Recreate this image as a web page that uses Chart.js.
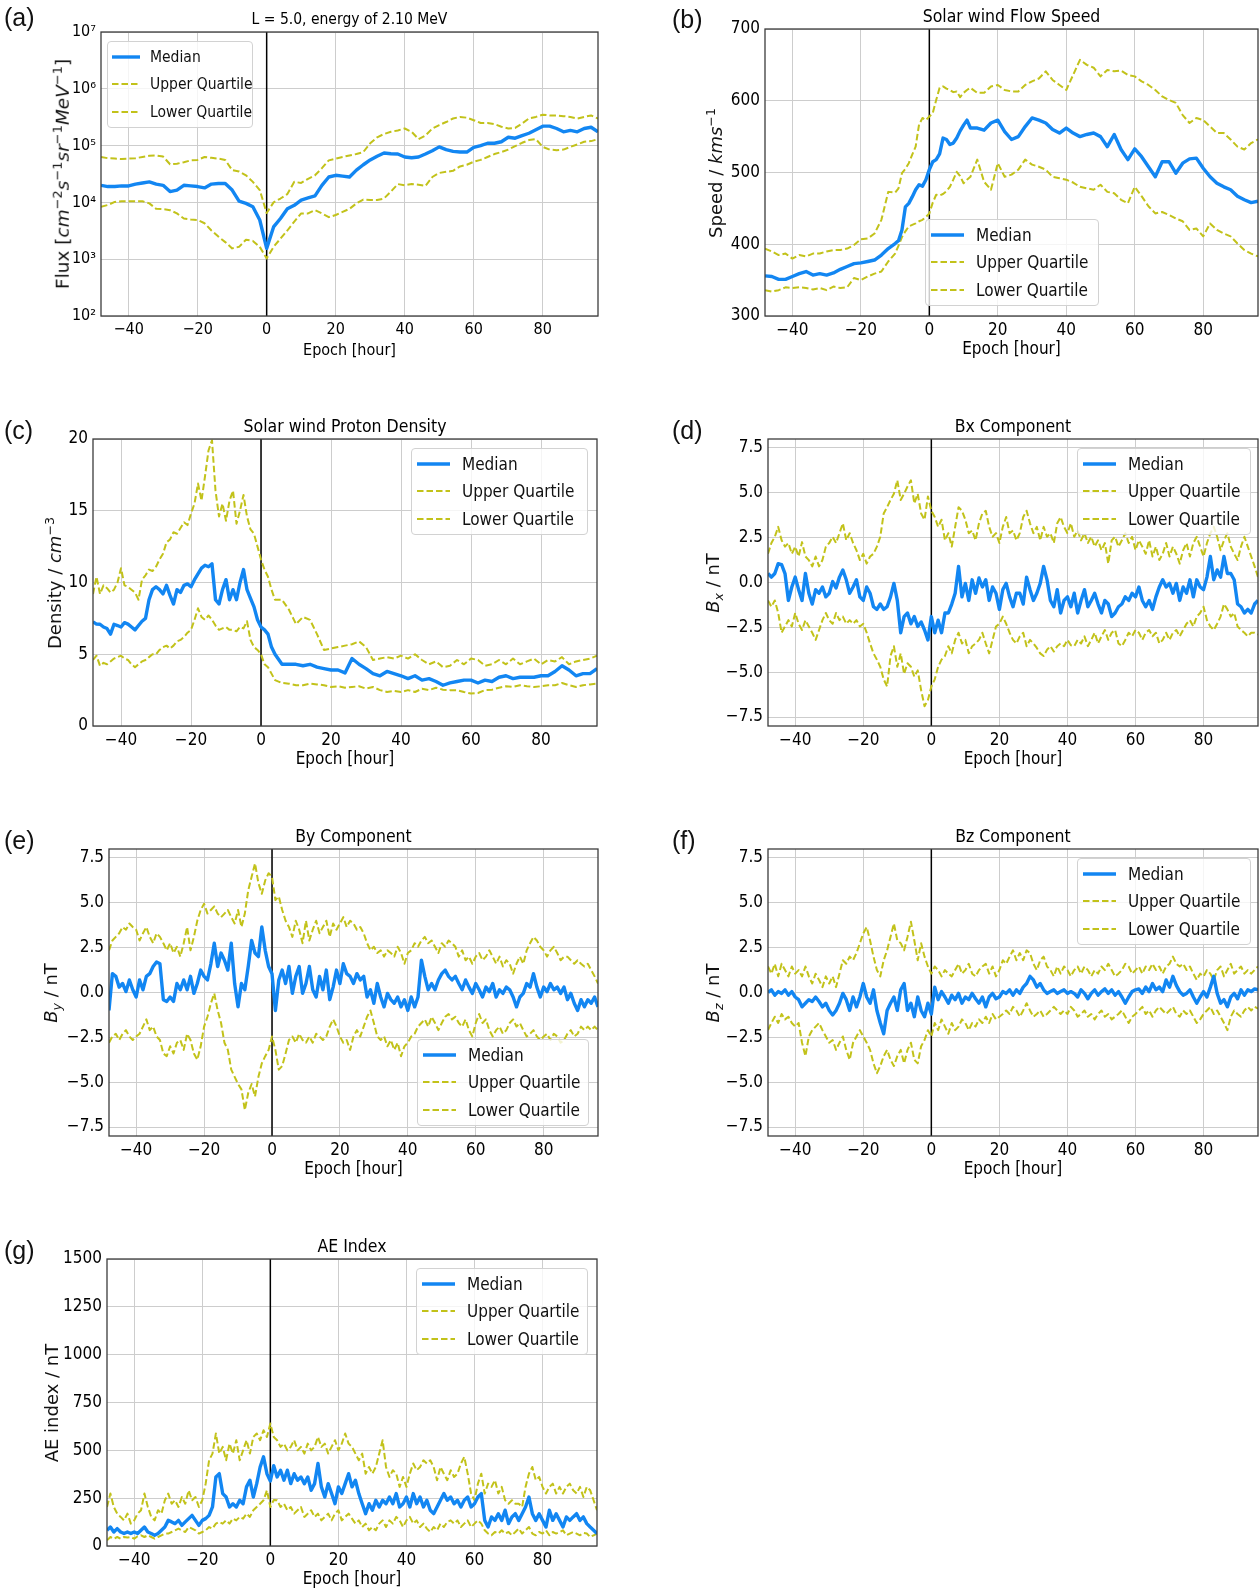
<!DOCTYPE html>
<html>
<head>
<meta charset="utf-8">
<script src="https://cdn.jsdelivr.net/npm/chart.js@4.4.1/dist/chart.umd.min.js"></script>
<style>
  body { margin: 0; background: #fff; width: 1260px; height: 1591px; position: relative; overflow: hidden; }
  .panel { position: absolute; }
  .tag { position: absolute; font: 25px 'Liberation Sans', Arial, sans-serif; line-height: 1; color: #111; }
  .ylab { position: absolute; white-space: nowrap; transform: translate(-50%, -50%) rotate(-90deg);
          font-family: 'DejaVu Sans', sans-serif; color: #111; line-height: 1; }
  .ylab sup { font-size: 0.7em; vertical-align: 0.55em; line-height: 0; }
  .ylab sub { font-size: 0.7em; vertical-align: -0.3em; line-height: 0; }
  .legend { position: absolute; background: rgba(255,255,255,0.8); border: 1px solid #d2d2d2;
            border-radius: 4px; box-sizing: border-box; }
  .legend .row { position: absolute; display: flex; align-items: center; height: 26px; white-space: nowrap; color: #111; }
</style>
</head>
<body>
<script>
// ---- data: epoch hours ----
const HOURS_1H = [-48,-47,-46,-45,-44,-43,-42,-41,-40,-39,
  -38,-37,-36,-35,-34,-33,-32,-31,-30,-29,
  -28,-27,-26,-25,-24,-23,-22,-21,-20,-19,
  -18,-17,-16,-15,-14,-13,-12,-11,-10,-9,
  -8,-7,-6,-5,-4,-3,-2,-1,0,1,
  2,3,4,5,6,7,8,9,10,11,
  12,13,14,15,16,17,18,19,20,21,
  22,23,24,25,26,27,28,29,30,31,
  32,33,34,35,36,37,38,39,40,41,
  42,43,44,45,46,47,48,49,50,51,
  52,53,54,55,56,57,58,59,60,61,
  62,63,64,65,66,67,68,69,70,71,
  72,73,74,75,76,77,78,79,80,81,
  82,83,84,85,86,87,88,89,90,91,
  92,93,94,95,96];
const HOURS_2H = [-48,-46,-44,-42,-40,-38,-36,-34,-32,-30,
  -28,-26,-24,-22,-20,-18,-16,-14,-12,-10,
  -8,-6,-4,-2,0,2,4,6,8,10,
  12,14,16,18,20,22,24,26,28,30,
  32,34,36,38,40,42,44,46,48,50,
  52,54,56,58,60,62,64,66,68,70,
  72,74,76,78,80,82,84,86,88,90,
  92,94,96];
const HOURS_B = [-48,-46,-44,-42,-40,-38,-36,-34,-32,-30,-28,-26,-24,-22,-20,-18,-16,-14,-12,-10,
  -9,-8,-7,-6,-5,-4,-3,-2,-1,0,1,2,3,4,5,6,7,8,9,10,11,12,
  14,16,18,20,22,24,26,28,30,32,34,36,38,40,42,44,46,48,50,52,54,56,58,60,62,64,66,68,70,72,74,76,78,80,82,84,86,88,90,92,94,96];
const HOURS_C = [-48,-47,-46,-45,-44,-43,-42,-41,-40,-39,
  -38,-37,-36,-35,-34,-33,-32,-31,-30,-29,
  -28,-27,-26,-25,-24,-23,-22,-21,-20,-19,
  -18,-17,-16,-15,-14,-13,-12,-11,-10,-9,
  -8,-7,-6,-5,-4,-3,-2,-1,0,1,
  2,3,4,
  6,8,10,12,14,16,18,20,22,24,
  26,28,30,32,34,36,38,40,42,44,
  46,48,50,52,54,56,58,60,62,64,
  66,68,70,72,74,76,78,80,82,84,
  86,88,90,92,94,96];

// (a) flux, L = 5.0, 2.10 MeV
const FLUX_MED = [2.0e4,1.9e4,1.9e4,1.95e4,1.95e4,2.1e4,2.2e4,2.3e4,2.1e4,2.0e4,
  1.55e4,1.65e4,2.0e4,1.95e4,1.9e4,1.8e4,2.1e4,2.15e4,2.15e4,1.65e4,
  1.05e4,9.6e3,8.4e3,4.9e3,1.55e3,3.7e3,5.2e3,7.7e3,8.9e3,1.1e4,
  1.2e4,1.3e4,2.0e4,2.8e4,3.0e4,2.9e4,2.8e4,3.7e4,4.6e4,5.6e4,
  6.5e4,7.4e4,7.2e4,7.1e4,6.3e4,6.1e4,6.3e4,7.1e4,8.1e4,9.5e4,
  8.5e4,7.9e4,7.7e4,7.7e4,9.3e4,1.0e5,1.1e5,1.1e5,1.17e5,1.4e5,
  1.35e5,1.5e5,1.65e5,1.9e5,2.2e5,2.2e5,2.0e5,1.75e5,1.85e5,1.75e5,
  2.0e5,2.1e5,1.75e5];
const FLUX_UP = [6.3e4,6.0e4,5.9e4,5.8e4,5.9e4,6.0e4,6.3e4,6.6e4,6.7e4,6.4e4,
  4.7e4,4.8e4,5.1e4,5.5e4,5.6e4,6.3e4,6.1e4,5.9e4,5.6e4,3.7e4,
  3.5e4,3.0e4,2.3e4,1.65e4,6.5e3,1.0e4,1.17e4,1.4e4,2.3e4,2.2e4,
  2.6e4,3.0e4,4.0e4,5.5e4,5.9e4,6.3e4,6.7e4,7.1e4,7.7e4,1.1e5,
  1.4e5,1.6e5,1.75e5,1.85e5,2.0e5,1.75e5,1.3e5,1.5e5,2.0e5,2.3e5,
  2.6e5,3.0e5,3.2e5,3.1e5,2.8e5,2.5e5,2.5e5,2.4e5,2.15e5,2.0e5,
  2.05e5,2.45e5,3.0e5,3.2e5,3.5e5,3.4e5,3.4e5,3.3e5,3.2e5,3.0e5,
  3.2e5,3.4e5,3.0e5];
const FLUX_LO = [8.4e3,9.0e3,1.02e4,1.05e4,1.05e4,1.05e4,1.05e4,9.6e3,7.7e3,7.6e3,
  7.3e3,6.4e3,5.2e3,5.0e3,4.9e3,4.3e3,3.2e3,2.5e3,2.0e3,1.55e3,
  1.65e3,2.2e3,2.1e3,1.65e3,1.03e3,1.65e3,2.3e3,3.2e3,4.6e3,6.4e3,
  6.4e3,7.3e3,6.4e3,5.5e3,6.0e3,6.8e3,7.7e3,9.6e3,1.12e4,1.1e4,
  1.1e4,1.17e4,1.55e4,2.1e4,2.0e4,2.1e4,2.05e4,1.95e4,2.8e4,3.3e4,
  3.45e4,3.6e4,4.3e4,4.6e4,5.2e4,5.6e4,6.3e4,7.1e4,7.7e4,8.5e4,
  9.8e4,1.12e5,1.25e5,1.3e5,9.5e4,8.5e4,8.3e4,8.5e4,9.5e4,1.05e5,
  1.17e5,1.2e5,1.3e5];

// (b) solar wind flow speed
const SPEED_MED = [356,355,351,351,355,359,362,357,359,357,360,365,369,373,374,376,378,385,394,401,
  405,420,452,457,466,476,483,481,490,504,515,518,526,548,546,539,541,548,558,566,573,562,
  562,559,569,573,557,546,550,564,576,573,569,560,555,562,555,550,553,555,550,536,553,532,518,533,522,508,494,515,515,499,513,519,520,506,494,485,480,476,467,462,458,460];
const SPEED_UP = [394,390,385,387,380,385,383,387,387,390,392,392,394,399,407,408,415,434,473,472,
  478,499,505,513,525,536,567,576,573,578,583,601,618,620,617,615,612,613,605,611,615,618,
  611,611,620,622,615,613,613,622,627,631,641,629,622,615,636,657,650,646,634,643,641,642,636,634,627,622,615,606,601,597,580,569,576,573,564,555,555,546,536,532,541,546];
const SPEED_LO = [336,334,336,340,339,340,339,337,339,336,341,339,340,353,350,355,359,362,376,387,
  398,410,418,425,427,429,432,434,438,443,458,469,468,470,474,480,490,501,495,485,490,494,
  518,487,476,513,494,497,504,518,511,508,504,494,492,490,486,480,478,476,483,473,471,462,457,480,467,453,443,445,441,436,432,420,422,411,429,420,415,411,401,392,387,383];

// (c) solar wind proton density
const DENS_MED = [7.26,7.1,7.09,6.9,6.79,6.4,7.09,7.0,6.9,7.2,
  7.1,6.9,6.7,7.0,7.3,7.5,8.8,9.5,9.7,9.5,
  9.2,9.8,9.1,8.5,9.5,9.3,9.8,9.9,9.7,10.2,
  10.6,11.0,11.2,11.1,11.3,8.8,8.5,9.5,10.2,8.8,
  9.5,8.8,10.0,10.9,9.5,8.9,8.3,7.4,6.9,6.7,
  6.4,5.5,5.0,
  4.3,4.3,4.3,4.2,4.3,4.1,4.0,3.9,3.9,3.7,
  4.7,4.3,4.0,3.65,3.5,3.8,3.65,3.5,3.3,3.5,
  3.2,3.3,3.1,2.84,3.0,3.1,3.2,3.2,3.0,3.2,
  3.1,3.4,3.5,3.3,3.4,3.4,3.4,3.5,3.5,3.8,
  4.2,3.9,3.5,3.65,3.65,4.0];
const DENS_UP = [9.2,10.4,9.2,9.8,9.6,9.3,9.5,10.0,11.0,9.8,
  9.7,9.5,9.3,8.8,10.2,10.5,10.9,10.8,11.1,11.6,
  12.0,12.8,13.0,13.5,13.4,13.8,14.2,14.0,14.8,15.5,
  16.9,15.7,17.4,19.2,19.9,16.4,14.6,15.5,14.3,15.7,
  16.4,14.1,15.0,16.1,14.6,13.7,13.4,12.5,11.6,10.9,
  10.4,9.5,8.8,
  8.8,8.1,7.1,7.6,7.4,6.4,5.3,5.4,5.5,5.6,
  5.7,5.9,5.5,4.6,4.7,4.8,4.7,4.9,4.7,5.0,
  4.6,4.3,4.5,4.1,4.2,4.6,4.3,4.7,4.6,4.2,
  4.3,4.6,4.3,4.7,4.3,4.5,4.7,4.3,4.6,4.5,
  4.8,4.3,4.5,4.6,4.7,4.9];
const DENS_LO = [4.6,4.9,4.2,4.4,4.3,4.5,4.7,4.8,4.9,4.7,
  4.6,4.3,4.1,4.3,4.5,4.6,4.8,5.0,5.0,5.3,
  5.5,5.6,5.4,5.6,5.9,6.0,6.2,6.5,6.7,7.4,
  8.2,7.6,7.4,7.7,7.4,7.0,6.7,6.8,6.9,6.7,
  6.7,6.6,6.9,6.8,7.3,6.0,5.5,5.3,5.0,4.3,
  4.1,3.65,3.2,
  3.0,2.95,2.84,2.84,2.95,2.9,2.84,2.72,2.77,2.67,
  2.72,2.77,2.6,2.72,2.5,2.37,2.44,2.37,2.5,2.37,
  2.6,2.5,2.67,2.53,2.5,2.5,2.37,2.26,2.3,2.5,
  2.53,2.67,2.77,2.72,2.84,2.77,2.72,2.77,2.84,2.84,
  3.0,2.84,2.72,2.84,2.9,2.95];

// (d) Bx component
const BX_MED = [0.5,0.3,0.5,1.05,1.0,0.5,-1.0,-0.25,0.3,-0.4,
  -1.0,0.5,-0.6,-1.2,-0.4,-0.6,-0.25,-0.8,-0.6,0.05,
  -0.3,0.3,0.7,0.15,-0.6,-0.25,0.15,-0.8,-1.0,-0.25,
  -0.6,-1.35,-1.5,-1.2,-1.5,-1.35,-0.8,-0.05,-1.0,-2.8,
  -1.9,-1.7,-2.3,-1.9,-2.45,-2.2,-2.65,-3.2,-1.9,-2.8,
  -2.1,-2.8,-1.7,-1.7,-1.2,-0.6,0.9,-0.8,-0.05,-1.0,
  0.15,-0.6,0.25,-0.25,0.15,-1.0,-0.25,-0.6,-1.5,-0.4,
  -0.05,-0.8,-1.35,-0.6,-0.6,-1.2,0.3,-0.4,-1.0,-0.6,
  -0.05,0.9,0.15,-1.0,-1.35,-0.4,-1.7,-1.0,-0.8,-1.35,
  -0.6,-1.7,-1.0,-0.4,-1.35,-1.0,-0.6,-1.2,-1.7,-1.0,
  -1.2,-1.9,-1.7,-1.35,-1.2,-0.8,-1.0,-0.6,-0.8,-0.25,
  -1.0,-1.35,-1.0,-1.5,-0.8,-0.25,0.15,-0.25,-0.05,-0.6,
  -0.05,-1.0,-0.25,-0.6,0.15,-0.8,0.15,-0.25,-0.4,0.3,
  1.45,0.15,0.7,0.3,1.45,0.5,0.5,0.15,-1.2,-1.35,
  -1.7,-1.5,-1.7,-1.2,-1.0];
const BX_UP = [1.6,2.2,2.55,3.1,2.35,2.0,2.2,1.6,2.0,1.45,
  2.25,1.45,1.25,0.9,1.45,0.9,1.25,2.0,2.2,2.55,
  2.2,2.75,3.3,2.35,2.75,2.2,1.8,1.25,1.6,1.05,
  1.45,1.6,2.0,2.55,3.85,4.2,4.6,4.95,5.7,4.6,
  4.95,5.35,5.7,4.4,4.95,3.85,3.5,4.8,4.0,3.65,
  3.1,3.5,2.35,2.75,2.0,3.1,4.2,4.0,3.5,2.75,
  2.9,2.35,3.3,3.85,4.0,3.1,2.55,2.75,2.2,3.1,
  3.65,2.75,2.9,2.35,2.75,3.65,4.0,3.3,2.75,3.1,
  2.35,3.1,2.55,2.75,2.2,3.3,3.65,3.1,2.75,3.3,
  2.55,2.9,2.35,2.75,2.2,2.55,2.0,2.35,1.8,2.2,
  1.05,2.35,2.55,2.0,2.35,2.75,2.2,2.55,1.8,2.35,
  2.0,1.6,2.35,1.45,2.0,1.25,1.6,2.2,1.45,2.0,
  1.6,1.05,1.8,2.2,1.45,2.2,2.55,2.0,1.45,2.2,
  2.75,3.1,2.55,1.8,2.35,2.75,2.0,1.6,1.25,2.0,
  2.55,2.0,1.45,0.9,0.3];
const BX_LO = [-1.0,-1.35,-1.0,-1.7,-2.8,-2.45,-2.1,-2.45,-1.7,-2.3,
  -2.65,-2.1,-2.45,-2.8,-3.2,-2.65,-2.1,-1.7,-2.1,-2.3,
  -1.7,-2.1,-1.9,-2.3,-2.1,-2.3,-2.1,-2.45,-2.3,-2.8,
  -3.4,-3.95,-4.3,-4.7,-5.4,-5.8,-4.1,-3.55,-4.7,-3.95,
  -5.1,-4.5,-4.7,-5.25,-4.9,-6.0,-6.9,-6.55,-5.8,-5.4,
  -4.7,-4.3,-4.1,-3.55,-3.95,-3.2,-2.8,-3.4,-3.2,-3.95,
  -3.55,-3.4,-3.2,-2.8,-3.4,-3.95,-3.2,-2.45,-2.3,-1.9,
  -2.3,-2.8,-3.2,-3.4,-3.0,-2.8,-3.55,-3.2,-3.4,-3.65,
  -3.95,-4.1,-3.75,-3.55,-3.85,-3.55,-3.4,-3.55,-3.2,-3.5,
  -3.55,-3.2,-3.4,-3.0,-3.55,-3.2,-2.8,-3.4,-3.0,-2.65,
  -3.2,-2.8,-2.65,-3.4,-3.55,-3.2,-2.8,-3.0,-2.65,-2.8,
  -3.2,-2.8,-2.65,-3.0,-2.8,-3.4,-3.2,-2.8,-3.2,-2.8,
  -2.65,-3.0,-2.65,-2.3,-2.1,-2.45,-1.9,-1.7,-1.35,-2.1,
  -2.45,-2.65,-2.3,-1.9,-1.2,-1.5,-1.9,-1.7,-2.45,-2.65,
  -2.8,-3.0,-2.8,-2.8,-2.9];

// (e) By component
const BY_MED = [-1.0,1.05,0.9,0.3,0.5,0.05,0.7,0.15,-0.25,0.7,
  0.15,0.9,1.05,1.45,1.7,1.6,-0.4,-0.5,-0.25,-0.5,
  0.5,0.15,0.7,0.15,0.9,-0.05,0.5,1.25,0.9,0.7,
  1.6,2.75,1.45,2.2,1.8,1.25,2.75,0.5,-0.8,0.5,
  0.15,1.45,2.9,2.2,2.0,3.65,2.35,1.45,1.05,-1.0,
  0.7,1.25,0.5,1.45,-0.05,0.9,1.45,-0.05,0.5,1.45,
  0.15,-0.25,0.9,0.15,1.25,-0.4,0.3,1.25,0.5,1.6,
  1.05,0.9,0.5,1.05,0.7,0.9,-0.25,0.15,-0.6,0.5,
  -0.25,-0.8,-0.05,-0.4,-0.6,-0.25,-0.8,-0.4,-1.0,-0.25,
  -0.8,-0.25,1.8,0.9,0.15,0.5,0.15,0.7,1.05,1.25,
  0.9,0.7,0.9,0.5,0.15,0.7,0.3,-0.05,0.5,0.15,
  -0.25,0.3,0.05,0.5,-0.25,0.15,-0.05,0.3,0.15,-0.25,
  -0.8,-0.25,-0.05,0.5,0.3,1.05,0.3,-0.25,0.3,0.05,
  0.5,0.15,0.3,-0.05,0.3,-0.4,-0.05,-0.6,-1.0,-0.4,
  -0.8,-0.4,-0.6,-0.25,-0.8];
const BY_UP = [2.35,2.9,3.1,3.3,3.65,3.5,3.85,3.65,3.5,2.9,
  3.3,3.65,3.1,2.75,3.3,3.1,2.75,2.35,2.75,2.2,
  2.55,2.0,2.75,3.65,2.35,3.1,4.0,4.6,4.95,4.4,
  4.6,4.8,4.4,4.2,4.4,4.6,4.2,3.85,4.6,3.65,
  4.4,5.7,6.45,7.2,6.1,5.5,6.25,6.65,6.45,5.15,
  5.35,4.6,4.0,3.65,3.1,4.0,3.5,2.75,4.0,2.9,
  3.5,4.0,3.3,3.65,4.0,3.1,3.85,3.5,3.85,4.2,
  3.65,4.0,3.85,3.5,3.65,3.3,2.75,2.35,2.55,2.2,
  2.35,2.0,2.35,2.2,2.0,2.55,2.2,1.6,2.2,2.35,
  2.75,2.55,2.9,3.1,2.75,2.9,2.55,2.2,2.75,2.55,
  2.9,2.75,2.55,2.0,2.35,1.8,2.0,1.6,2.0,2.2,
  1.8,2.0,2.35,2.0,1.6,2.0,1.45,1.8,1.6,1.05,
  1.6,2.0,1.6,2.35,2.75,3.1,2.9,2.55,2.35,2.0,
  2.35,2.55,2.2,1.8,2.0,2.0,1.8,1.6,1.8,1.6,
  1.45,1.6,1.25,0.9,0.5];
const BY_LO = [-2.8,-2.45,-2.3,-2.65,-2.3,-2.1,-2.45,-2.65,-2.45,-2.3,
  -1.9,-1.5,-2.1,-1.9,-2.45,-2.65,-3.4,-3.55,-3.0,-3.4,
  -2.8,-2.65,-3.2,-2.3,-2.65,-3.4,-3.75,-3.0,-1.9,-1.35,
  -0.6,-0.05,-1.0,-1.7,-2.8,-3.2,-4.3,-4.7,-5.1,-5.4,
  -6.55,-5.6,-5.1,-5.8,-4.7,-3.95,-3.55,-3.2,-2.45,-3.2,
  -4.3,-4.1,-3.4,-2.65,-2.45,-2.8,-2.3,-2.65,-2.8,-2.45,
  -2.8,-2.3,-2.45,-2.65,-2.45,-1.9,-1.5,-1.9,-2.45,-2.8,
  -2.65,-3.2,-2.45,-2.1,-2.45,-1.9,-1.35,-1.0,-1.7,-2.45,
  -2.65,-2.45,-3.0,-2.65,-3.2,-2.8,-3.55,-3.0,-2.8,-2.45,
  -2.3,-1.9,-1.7,-1.5,-1.9,-1.35,-1.7,-2.1,-1.7,-1.35,
  -1.2,-1.5,-1.35,-1.7,-1.9,-1.5,-2.1,-2.45,-1.7,-1.2,
  -1.7,-1.5,-2.1,-2.45,-2.1,-1.9,-2.3,-2.1,-1.7,-1.5,
  -1.9,-1.7,-2.1,-2.45,-2.3,-2.1,-2.45,-2.65,-2.45,-2.3,
  -2.65,-2.3,-2.45,-2.8,-2.65,-2.3,-2.1,-2.45,-2.3,-1.9,
  -2.1,-1.9,-2.1,-1.9,-2.1];

// (f) Bz component
const BZ_MED = [0.0,0.15,-0.15,0.05,-0.05,0.15,-0.15,0.05,-0.25,-0.4,
  -0.8,-0.6,-0.4,-0.5,-0.25,-0.5,-0.8,-0.6,-1.0,-1.25,
  -1.0,-0.6,-0.05,-0.4,-1.0,-0.25,-0.8,-0.25,0.5,-0.25,
  -0.6,0.15,-1.0,-1.7,-2.3,-1.0,-0.6,-0.25,-1.0,0.15,
  0.5,-1.0,-0.6,-1.35,-0.25,-1.0,-1.35,-0.6,-1.2,0.3,
  -0.4,0.05,-0.25,-0.6,-0.15,-0.4,-0.05,-0.6,-0.25,-0.4,
  -0.05,-0.35,-0.6,-0.25,-0.8,-0.25,-0.05,-0.35,-0.25,0.05,
  -0.05,0.15,-0.15,0.15,-0.05,0.3,0.5,0.9,0.7,0.3,
  0.5,0.15,-0.05,0.05,0.15,-0.05,0.05,0.15,-0.05,0.05,
  -0.05,-0.25,0.15,-0.05,-0.35,-0.05,0.15,-0.15,0.05,0.2,
  -0.05,0.15,-0.15,0.05,-0.25,-0.6,-0.25,0.05,0.15,0.2,
  -0.05,0.3,0.05,0.5,0.15,0.3,0.05,0.7,0.3,0.9,
  0.4,0.05,-0.15,-0.05,0.15,-0.25,-0.6,-0.25,0.05,-0.25,
  0.3,0.9,-0.05,-0.6,-0.4,-0.8,-0.25,-0.05,-0.35,0.15,
  -0.15,0.15,0.05,0.2,0.15];
const BZ_UP = [1.45,1.05,1.6,0.9,1.6,1.25,0.9,1.45,1.05,1.25,
  0.9,1.45,0.9,0.5,1.05,0.7,0.3,0.9,0.5,0.9,
  0.3,1.05,1.8,1.6,2.0,1.8,2.2,2.75,3.3,3.65,
  2.9,2.0,1.25,0.9,1.8,2.35,3.1,3.85,2.9,2.75,
  2.35,3.1,3.95,2.9,1.8,2.75,2.0,1.45,1.05,1.45,
  1.25,0.9,1.25,1.05,0.9,1.25,1.6,1.05,1.25,1.6,
  1.05,0.9,1.25,1.45,1.6,1.05,1.45,0.9,1.25,1.8,
  1.6,2.0,2.35,1.8,2.2,1.8,2.35,2.2,1.6,1.25,
  1.8,2.0,1.45,1.25,0.9,1.45,1.05,1.45,1.25,0.9,
  1.25,1.45,1.05,1.45,1.25,0.9,1.25,1.05,1.45,1.25,
  1.6,1.25,0.9,1.05,1.25,1.6,1.45,1.05,1.25,1.45,
  1.05,1.45,1.25,1.6,1.25,1.45,1.05,1.45,1.6,2.0,
  1.6,1.45,1.6,1.25,1.45,1.05,0.7,1.05,0.9,1.25,
  1.05,0.7,1.25,1.45,0.9,1.25,1.6,1.05,1.25,1.45,
  1.05,1.25,1.05,1.25,1.45];
const BZ_LO = [-2.1,-1.7,-1.35,-1.7,-1.2,-1.5,-1.35,-1.7,-1.9,-1.7,
  -2.8,-3.55,-2.45,-2.1,-1.9,-1.7,-2.1,-2.45,-2.8,-2.65,
  -3.2,-2.8,-2.45,-3.2,-3.75,-2.8,-2.45,-2.1,-2.45,-2.8,
  -3.2,-3.95,-4.5,-4.1,-3.55,-3.2,-3.75,-4.1,-3.55,-3.2,
  -3.95,-3.2,-2.8,-3.75,-3.95,-3.0,-2.65,-2.1,-2.45,-1.7,
  -2.1,-1.5,-1.9,-2.3,-1.7,-2.1,-1.9,-1.5,-1.7,-2.1,
  -1.7,-1.9,-1.5,-1.7,-1.35,-1.7,-1.2,-1.5,-1.35,-1.2,
  -1.0,-1.2,-0.8,-1.0,-1.35,-1.0,-0.6,-1.0,-1.35,-1.2,
  -1.0,-1.35,-1.2,-1.0,-0.8,-1.0,-1.2,-1.0,-1.2,-0.8,
  -1.0,-1.35,-1.2,-1.0,-1.35,-1.2,-1.5,-1.2,-1.0,-1.35,
  -1.2,-1.5,-1.35,-1.2,-1.0,-1.35,-1.7,-1.35,-1.2,-1.0,
  -0.8,-1.2,-1.0,-1.35,-1.0,-0.8,-1.0,-1.2,-1.0,-0.8,
  -1.2,-1.35,-1.0,-1.2,-1.0,-1.35,-1.7,-1.5,-1.2,-1.0,
  -0.8,-1.2,-1.0,-1.35,-1.7,-2.1,-1.35,-1.0,-1.2,-1.35,
  -1.0,-0.8,-1.0,-0.8,-0.9];

// (g) AE index
const AE_MED = [82,99,73,91,73,65,73,65,73,65,
  82,99,73,65,56,65,82,99,134,126,
  117,134,108,126,143,160,134,108,134,143,
  160,204,361,378,274,256,204,221,204,239,
  221,309,344,256,326,413,466,378,340,420,
  361,396,344,396,326,378,344,361,326,361,
  291,326,431,309,256,326,274,221,309,274,
  326,378,309,344,274,221,169,221,187,239,
  204,239,221,256,221,274,204,221,256,204,
  274,221,256,204,239,187,169,204,239,274,
  239,256,221,239,204,239,256,204,221,256,
  274,134,99,152,134,169,134,187,117,152,
  169,134,169,204,256,169,134,169,134,99,
  187,134,169,134,99,152,134,152,169,134,
  152,117,99,82,65];
const AE_UP = [204,274,204,169,152,134,169,117,134,169,
  187,274,204,152,134,187,169,239,274,221,
  239,204,256,221,291,239,256,204,239,326,
  448,483,588,483,518,448,535,483,553,448,
  500,553,483,570,588,553,605,570,640,570,
  553,518,535,500,518,553,500,518,483,535,
  500,518,570,518,535,483,518,553,500,535,
  588,535,518,483,448,483,378,413,378,413,
  483,553,413,361,396,378,309,361,309,378,
  431,396,413,448,431,448,413,344,413,378,
  344,396,361,378,431,466,378,274,239,326,
  378,274,326,309,344,274,309,239,221,239,
  221,221,204,309,378,413,344,361,309,274,
  309,326,274,309,274,309,326,291,274,309,
  256,309,291,239,187];
const AE_LO = [30,47,38,47,38,47,44,47,38,51,
  56,47,56,47,38,47,56,65,65,73,
  82,91,82,73,99,91,82,65,73,82,
  99,91,117,126,117,134,117,143,134,152,
  143,169,152,187,204,221,239,291,204,240,
  239,204,221,187,204,169,187,204,152,169,
  187,152,169,134,152,169,134,169,187,134,
  152,169,143,117,134,99,117,82,99,82,
  117,134,99,134,117,152,134,99,134,152,
  117,134,99,117,91,73,99,82,117,99,
  126,134,117,134,99,117,134,99,117,134,
  117,82,65,56,73,65,82,65,73,56,
  73,91,65,82,99,65,56,73,65,82,
  56,73,65,73,82,56,65,73,65,56,
  68,65,47,56,65];

// tick values
const X_TICKS = [-40,-20,0,20,40,60,80];
const FLUX_TICKS = [1e2,1e3,1e4,1e5,1e6,1e7];
const SPEED_TICKS = [300,400,500,600,700];
const DENS_TICKS = [0,5,10,15,20];
const B_TICKS = [-7.5,-5,-2.5,0,2.5,5,7.5];
const AE_TICKS = [0,250,500,750,1000,1250,1500];

// ---- style ----
const BLUE = '#1286f2';
const OLIVE = '#c2c21a';
const GRID = '#cdcdcd';
const SPINE = '#3c3c3c';
const DASH = [6.5, 3];
const TITLE_H = 30, X_AXIS_H = 44, PAD_R = 8;

function hasFont(name) {
  const c = document.createElement('canvas').getContext('2d');
  const s = 'MeV Quartile 0123456789';
  c.font = '40px monospace';
  const w0 = c.measureText(s).width;
  c.font = `40px "${name}", monospace`;
  return c.measureText(s).width !== w0;
}
const COND = hasFont('DejaVu Sans Condensed') ? '"DejaVu Sans Condensed"' : '"Liberation Sans", sans-serif';
const NARROW = hasFont('Liberation Sans Narrow');
const FONT_M = { family: COND, tick: 17, title: 17.5, legend: 17, axis: 17 };
const FONT_A = NARROW
  ? { family: '"Liberation Sans Narrow"', tick: 18, title: 17.5, legend: 18, axis: 18 }
  : { family: COND, tick: 16, title: 15.5, legend: 15.5, axis: 16 };

const SUP = { 2: '\u00b2', 3: '\u00b3', 4: '\u2074', 5: '\u2075', 6: '\u2076', 7: '\u2077' };
const minus = v => (v < 0 ? '\u2212' : '');
const fmtX = v => minus(v) + Math.abs(v);
const fmtInt = v => String(v);
const fmtOne = v => minus(v) + Math.abs(v).toFixed(1);
const fmtPow = v => '10' + SUP[Math.round(Math.log10(v))];

const PANELS = [
  { tag: '(a)', tagPos: [4, 5], title: 'L = 5.0, energy of 2.10 MeV', area: [101, 32, 598, 316], col: 0, narrow: true,
    hours: HOURS_2H, med: FLUX_MED, up: FLUX_UP, lo: FLUX_LO,
    y: { type: 'logarithmic', min: 1e2, max: 1e7, ticks: FLUX_TICKS, fmt: fmtPow },
    ylab: 'Flux [<i>cm</i><sup>\u22122</sup><i>s</i><sup>\u22121</sup><i>sr</i><sup>\u22121</sup><i>MeV</i><sup>\u22121</sup>]', ylabX: 63, ylabSize: 18.5,
    legend: [107, 41, 146, 87] },
  { tag: '(b)', tagPos: [672, 7], title: 'Solar wind Flow Speed', area: [765, 29, 1258, 316], col: 1,
    hours: HOURS_B, med: SPEED_MED, up: SPEED_UP, lo: SPEED_LO,
    y: { type: 'linear', min: 300, max: 700, ticks: SPEED_TICKS, fmt: fmtInt },
    ylab: 'Speed / <i>kms</i><sup>\u22121</sup>', ylabX: 716, ylabSize: 18,
    legend: [925, 219, 174, 87] },
  { tag: '(c)', tagPos: [4, 418], title: 'Solar wind Proton Density', area: [93, 439, 597, 726], col: 0,
    hours: HOURS_C, med: DENS_MED, up: DENS_UP, lo: DENS_LO,
    y: { type: 'linear', min: 0, max: 20, ticks: DENS_TICKS, fmt: fmtInt },
    ylab: 'Density / <i>cm</i><sup>\u22123</sup>', ylabX: 55, ylabSize: 18,
    legend: [411, 448, 177, 87] },
  { tag: '(d)', tagPos: [672, 418], title: 'Bx Component', area: [768, 439, 1258, 726], col: 1,
    hours: HOURS_1H, med: BX_MED, up: BX_UP, lo: BX_LO,
    y: { type: 'linear', min: -8, max: 8, ticks: B_TICKS, fmt: fmtOne },
    ylab: '<i>B</i><sub><i>x</i></sub> / nT', ylabX: 713, ylabSize: 18,
    legend: [1077, 448, 174, 87] },
  { tag: '(e)', tagPos: [4, 828], title: 'By Component', area: [109, 849, 598, 1136], col: 0,
    hours: HOURS_1H, med: BY_MED, up: BY_UP, lo: BY_LO,
    y: { type: 'linear', min: -8, max: 8, ticks: B_TICKS, fmt: fmtOne },
    ylab: '<i>B</i><sub><i>y</i></sub> / nT', ylabX: 51, ylabSize: 18,
    legend: [417, 1039, 172, 87] },
  { tag: '(f)', tagPos: [672, 828], title: 'Bz Component', area: [768, 849, 1258, 1136], col: 1,
    hours: HOURS_1H, med: BZ_MED, up: BZ_UP, lo: BZ_LO,
    y: { type: 'linear', min: -8, max: 8, ticks: B_TICKS, fmt: fmtOne },
    ylab: '<i>B</i><sub><i>z</i></sub> / nT', ylabX: 713, ylabSize: 18,
    legend: [1077, 858, 174, 87] },
  { tag: '(g)', tagPos: [4, 1238], title: 'AE Index', area: [107, 1259, 597, 1546], col: 0,
    hours: HOURS_1H, med: AE_MED, up: AE_UP, lo: AE_LO,
    y: { type: 'linear', min: 0, max: 1500, ticks: AE_TICKS, fmt: fmtInt },
    ylab: 'AE index / nT', ylabX: 52, ylabSize: 18,
    legend: [416, 1268, 172, 87] }
];

const frame = {
  id: 'frame',
  afterDatasetsDraw(chart) {
    const { ctx, chartArea: a } = chart;
    ctx.save();
    ctx.strokeStyle = SPINE;
    ctx.lineWidth = 1.3;
    ctx.strokeRect(a.left, a.top, a.right - a.left, a.bottom - a.top);
    ctx.restore();
  }
};

const pts = (hrs, vals) => hrs.map((h, i) => ({ x: h, y: vals[i] }));

PANELS.forEach(p => {
  [p.med, p.up, p.lo].forEach(s => {
    if (s.length !== p.hours.length) throw new Error(p.tag + ' length ' + s.length + ' vs ' + p.hours.length);
  });
  const F = p.narrow ? FONT_A : FONT_M;
  const [L, T, R, B] = p.area;
  const left = p.col === 0 ? 0 : 640;
  const yW = L - left;
  const top = T - TITLE_H;
  const W = R - left + PAD_R, H = B + X_AXIS_H - top;

  const box = document.createElement('div');
  box.className = 'panel';
  box.style.cssText = `left:${left}px;top:${top}px;width:${W}px;height:${H}px`;
  const cv = document.createElement('canvas');
  cv.width = W; cv.height = H;
  cv.style.width = W + 'px'; cv.style.height = H + 'px';
  box.appendChild(cv);
  document.body.appendChild(box);

  const lh = F.title * 1.2;
  const padTop = 18 - lh / 2;
  const tickFont = { family: F.family, size: F.tick };

  new Chart(cv, {
    type: 'line',
    data: {
      datasets: [
        { label: 'Median', data: pts(p.hours, p.med), borderColor: BLUE, borderWidth: 3.4 },
        { label: 'Upper Quartile', data: pts(p.hours, p.up), borderColor: OLIVE, borderWidth: 2, borderDash: DASH },
        { label: 'Lower Quartile', data: pts(p.hours, p.lo), borderColor: OLIVE, borderWidth: 2, borderDash: DASH },
        { label: 'epoch', data: [{ x: 0, y: p.y.min }, { x: 0, y: p.y.max }], borderColor: '#000', borderWidth: 1.5 }
      ]
    },
    options: {
      responsive: false,
      animation: false,
      devicePixelRatio: 1,
      layout: { padding: { left: 0, top: 0, right: PAD_R, bottom: 0 } },
      elements: { point: { radius: 0 }, line: { tension: 0, borderJoinStyle: 'round' } },
      plugins: {
        legend: { display: false },
        tooltip: { enabled: false },
        title: {
          display: true, text: p.title, color: '#000', fullSize: false,
          font: { family: F.family, size: F.title, weight: 'normal' },
          padding: { top: padTop, bottom: TITLE_H - padTop - lh }
        }
      },
      scales: {
        x: {
          type: 'linear', min: -48, max: 96,
          afterBuildTicks: s => { s.ticks = X_TICKS.map(v => ({ value: v })); },
          afterFit: s => { s.height = X_AXIS_H; },
          grid: { color: GRID, drawTicks: false },
          border: { display: false },
          ticks: { color: '#000', font: tickFont, padding: 4, autoSkip: false, maxRotation: 0, callback: fmtX },
          title: { display: true, text: 'Epoch [hour]', color: '#000', font: { family: F.family, size: F.axis }, padding: 0 }
        },
        y: {
          type: p.y.type, min: p.y.min, max: p.y.max,
          afterBuildTicks: s => { s.ticks = p.y.ticks.map(v => ({ value: v })); },
          afterFit: s => { s.width = yW; },
          grid: { color: GRID, drawTicks: false },
          border: { display: false },
          ticks: { color: '#000', font: tickFont, padding: 5, autoSkip: false, callback: p.y.fmt }
        }
      }
    },
    plugins: [frame]
  });

  // panel tag
  const tag = document.createElement('div');
  tag.className = 'tag';
  tag.textContent = p.tag;
  tag.style.left = p.tagPos[0] + 'px';
  tag.style.top = p.tagPos[1] + 'px';
  document.body.appendChild(tag);

  // y-axis title
  const yl = document.createElement('div');
  yl.className = 'ylab';
  yl.innerHTML = p.ylab;
  yl.style.left = p.ylabX + 'px';
  yl.style.top = ((T + B) / 2) + 'px';
  yl.style.fontSize = p.ylabSize + 'px';
  document.body.appendChild(yl);

  // legend
  const [lx, ly, lw, lhh] = p.legend;
  const lg = document.createElement('div');
  lg.className = 'legend';
  lg.style.cssText = `left:${lx}px;top:${ly}px;width:${lw}px;height:${lhh}px`;
  const rows = [
    { text: 'Median', color: BLUE, w: 3.4, dash: '' },
    { text: 'Upper Quartile', color: OLIVE, w: 2, dash: DASH.join(' ') },
    { text: 'Lower Quartile', color: OLIVE, w: 2, dash: DASH.join(' ') }
  ];
  const hx = p.narrow ? 4 : 5, hw = p.narrow ? 28 : 33, tx = p.narrow ? 42 : 50;
  rows.forEach((r, i) => {
    const row = document.createElement('div');
    row.className = 'row';
    row.style.left = hx + 'px';
    row.style.top = (15 + i * 27.3 - 13) + 'px';
    row.style.fontFamily = F.family;
    row.style.fontSize = F.legend + 'px';
    row.innerHTML = `<svg width="${hw}" height="8" style="margin-right:${tx - hx - hw}px"><line x1="0" y1="4" x2="${hw}" y2="4" stroke="${r.color}" stroke-width="${r.w}" ${r.dash ? `stroke-dasharray="${r.dash}"` : ''}/></svg><span>${r.text}</span>`;
    lg.appendChild(row);
  });
  document.body.appendChild(lg);
});
</script>
</body>
</html>
